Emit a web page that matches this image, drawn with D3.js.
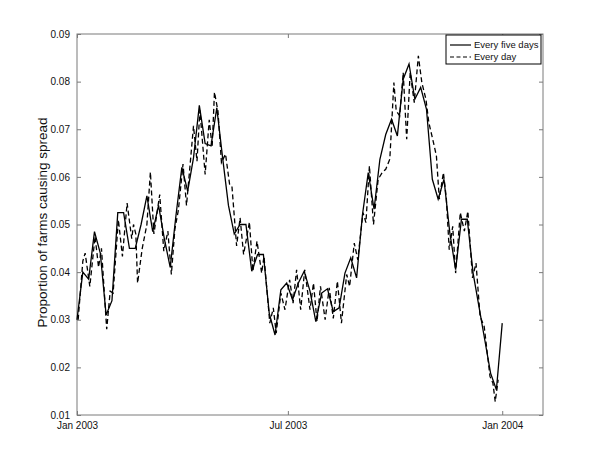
<!DOCTYPE html>
<html>
<head>
<meta charset="utf-8">
<script src="https://cdn.jsdelivr.net/npm/d3@7"></script>
<style>
  body { margin: 0; background: #fff; }
  svg { font-family: "Liberation Sans", Arial, Helvetica, sans-serif; }
</style>
</head>
<body>
<svg id="spread_plot" width="600" height="468"></svg>
<script>
// ====================== DATA ======================
// days since 1 Jan 2003
let fiveDayDays = d3.range(0, 366, 5);
let fiveDayValues = [
  0.030, 0.040, 0.0385, 0.0485, 0.044, 0.031, 0.034, 0.0525, 0.0525, 0.045,
  0.045, 0.050, 0.056, 0.0485, 0.054, 0.047, 0.041, 0.052, 0.062, 0.057,
  0.064, 0.075, 0.067, 0.0665, 0.0745, 0.064, 0.054, 0.048, 0.050, 0.050,
  0.0402, 0.0437, 0.0437, 0.0314, 0.0268, 0.0363, 0.0377, 0.0342, 0.0377, 0.0402,
  0.036, 0.0296, 0.0356, 0.0365, 0.0317, 0.0325, 0.0398, 0.043, 0.0388, 0.052,
  0.0609, 0.0532, 0.0637, 0.0689, 0.0721, 0.0686, 0.0805, 0.0837, 0.0763, 0.0788,
  0.0742, 0.0595, 0.0553, 0.0595, 0.0483, 0.0405, 0.0511, 0.0511, 0.0398, 0.0328,
  0.0258, 0.0188, 0.0153, 0.0293
];

let everyDayDays = [
  1, 5, 7, 11, 15.5, 18.5, 21, 25.5, 28.5, 31, 35.5, 39, 43, 47, 48.5, 50.5, 52, 56, 60, 63,
  66, 71, 74.5, 78, 81, 84, 87, 91, 94, 100, 103, 105.5, 110, 113.5, 116, 118, 121, 124, 127.5, 131,
  133, 137, 140, 143, 148, 151, 154.5, 158.5, 160.5, 165.5, 168.5, 171, 175, 178.5, 182.5, 185.5, 188.5, 192, 195.5, 200,
  203, 206, 209, 213, 216.5, 220, 223.5, 227, 231.5, 234, 238, 241, 245.5, 248, 251, 254.5, 258.5, 262, 265, 268.5,
  272, 274, 277, 280, 283, 286, 289.5, 293, 296, 299.5, 302, 306, 308.5, 311, 314.5, 317, 319.5, 322.5, 325, 329,
  332.5, 335.5, 339.5, 342.5, 346, 349.5, 354.5, 357, 359, 361.5
];
let everyDayValues = [
  0.030, 0.0423, 0.044, 0.037, 0.0475, 0.041, 0.045, 0.028, 0.036, 0.0356, 0.051, 0.0433, 0.0545, 0.047, 0.050, 0.048, 0.0377, 0.045, 0.050, 0.061,
  0.048, 0.0563, 0.0444, 0.0486, 0.0395, 0.049, 0.053, 0.0627, 0.054, 0.0707, 0.0633, 0.074, 0.0605, 0.072, 0.0662, 0.0778, 0.0738, 0.063, 0.0648, 0.0584,
  0.058, 0.0455, 0.0514, 0.0437, 0.0505, 0.0402, 0.0465, 0.0398, 0.0433, 0.0293, 0.0325, 0.0272, 0.0356, 0.0321, 0.0384, 0.0335, 0.0405, 0.0321, 0.0405, 0.0321,
  0.0377, 0.0296, 0.037, 0.030, 0.0367, 0.0303, 0.0381, 0.0293, 0.0395, 0.0370, 0.0461, 0.0426, 0.0525, 0.0504, 0.0623, 0.050, 0.0595, 0.0609, 0.0616, 0.0637,
  0.0798, 0.0739, 0.0728, 0.0819, 0.0679, 0.0819, 0.0756, 0.0854, 0.0798, 0.0763, 0.0714, 0.0672, 0.0644, 0.0553, 0.0609, 0.0556, 0.0447, 0.0496, 0.0398, 0.0525,
  0.0486, 0.0528, 0.0388, 0.0419, 0.0307, 0.0286, 0.0181, 0.0167, 0.0128, 0.0174
];

let yTicks = [0.01, 0.02, 0.03, 0.04, 0.05, 0.06, 0.07, 0.08, 0.09];
let xTickDates = [new Date(2003, 0, 1), new Date(2003, 6, 1), new Date(2004, 0, 1)];
let legendLabels = ["Every five days", "Every day"];

// ====================== PLOT ======================
let spread_left = 77, spread_right = 543, spread_top = 34, spread_bottom = 415;
let startDate = new Date(2003, 0, 1);
let dayToDate = d => new Date(startDate.getTime() + d * 864e5);

let xScaleSpread = d3.scaleTime()
  .domain([startDate, dayToDate(400)])
  .range([spread_left, spread_right]);
let yScaleSpread = d3.scaleLinear()
  .domain([0.01, 0.09])
  .range([spread_bottom, spread_top]);

let svg = d3.select("#spread_plot");
let axisColor = "#7a7a7a";

// box
svg.append("rect")
  .attr("x", spread_left).attr("y", spread_top)
  .attr("width", spread_right - spread_left).attr("height", spread_bottom - spread_top)
  .attr("fill", "none").attr("stroke", axisColor).attr("stroke-width", 1);

// y axis (ticks inside, mirrored on the right)
let yAxis = svg.append("g")
  .attr("transform", `translate(${spread_left},0)`)
  .call(d3.axisLeft(yScaleSpread).tickValues(yTicks).tickFormat(d3.format(".2f")).tickSize(-4).tickPadding(7));
let yAxisRight = svg.append("g")
  .attr("transform", `translate(${spread_right},0)`)
  .call(d3.axisRight(yScaleSpread).tickValues(yTicks).tickSize(-4).tickFormat(""));

// x axis (ticks inside, mirrored on top)
let xAxis = svg.append("g")
  .attr("transform", `translate(0,${spread_bottom})`)
  .call(d3.axisBottom(xScaleSpread).tickValues(xTickDates).tickFormat(d3.timeFormat("%b %Y")).tickSize(-4).tickPadding(8));
let xAxisTop = svg.append("g")
  .attr("transform", `translate(0,${spread_top})`)
  .call(d3.axisTop(xScaleSpread).tickValues(xTickDates).tickSize(-4).tickFormat(""));

[yAxis, yAxisRight, xAxis, xAxisTop].forEach(g => {
  g.select(".domain").remove();
  g.selectAll(".tick line").attr("stroke", axisColor);
  g.selectAll("text")
    .attr("fill", "#111")
    .style("font-size", "10px")
    .style("font-family", "Liberation Sans, Arial, sans-serif");
});
xAxis.selectAll(".tick text").attr("dy", "0.55em");

// y label
svg.append("text")
  .attr("transform", `translate(47,${(spread_top + spread_bottom) / 2 - 2}) rotate(-90)`)
  .style("text-anchor", "middle")
  .style("font-size", "13.5px")
  .attr("fill", "#111")
  .text("Proportion of farms causing spread");

// lines
let lineSpread = d3.line()
  .x(d => xScaleSpread(dayToDate(d[0])))
  .y(d => yScaleSpread(d[1]));

svg.append("path")
  .datum(everyDayDays.map((d, i) => [d, everyDayValues[i]]))
  .attr("d", lineSpread)
  .attr("fill", "none")
  .attr("stroke", "#000")
  .attr("stroke-width", 1.3)
  .attr("stroke-dasharray", "5,3");

svg.append("path")
  .datum(fiveDayDays.map((d, i) => [d, fiveDayValues[i]]))
  .attr("d", lineSpread)
  .attr("fill", "none")
  .attr("stroke", "#000")
  .attr("stroke-width", 1.3);

// legend
let legend = svg.append("g").attr("transform", "translate(446,35)");
legend.append("rect")
  .attr("width", 95).attr("height", 29)
  .attr("fill", "#fff").attr("stroke", "#000").attr("stroke-width", 1);
legendLabels.forEach((label, i) => {
  let ly = 10 + i * 12;
  legend.append("line")
    .attr("x1", 4).attr("x2", 25).attr("y1", ly).attr("y2", ly)
    .attr("stroke", "#000").attr("stroke-width", 1.2)
    .attr("stroke-dasharray", i === 1 ? "4,2.5" : null);
  legend.append("text")
    .attr("x", 28).attr("y", ly).attr("dy", "0.35em")
    .style("font-size", "9.5px")
    .attr("fill", "#111")
    .text(label);
});
</script>
</body>
</html>
